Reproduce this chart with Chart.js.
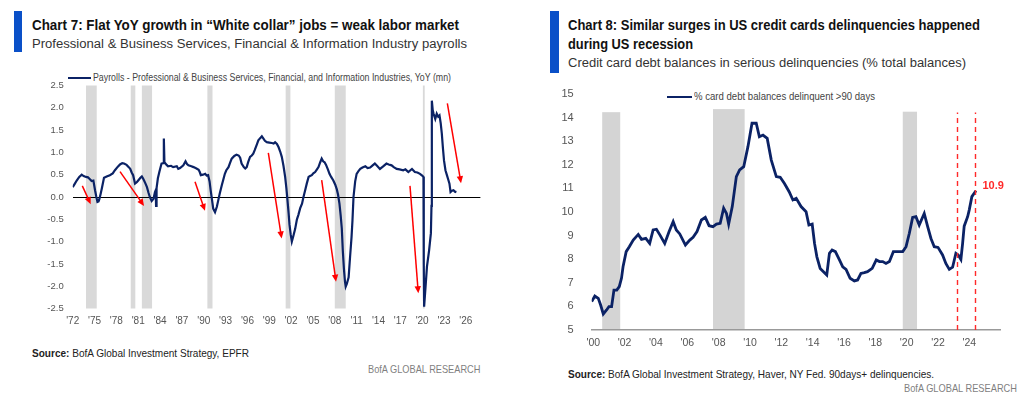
<!DOCTYPE html>
<html><head><meta charset="utf-8">
<script src="https://cdn.jsdelivr.net/npm/chart.js@4"></script>
<style>
html,body{margin:0;padding:0;background:#fff;}
body{width:1024px;height:395px;position:relative;overflow:hidden;font-family:'Liberation Sans Narrow','Liberation Sans',Arial,sans-serif;}
.t{position:absolute;white-space:nowrap;line-height:1;transform-origin:0 0;display:inline-block;}
.bar{position:absolute;background:#0a50c8;}
.lg{position:absolute;background:#0b2265;height:2px;}
canvas{position:absolute;top:0;}
</style></head>
<body>
<div class="bar" style="left:14px;top:11px;width:8px;height:41px"></div>
<span class="t" data-x="32" data-b="29.3" data-s="15" data-w="427" style="font-weight:bold;color:#111">Chart 7: Flat YoY growth in “White collar” jobs = weak labor market</span>
<span class="t" data-x="32" data-b="48.3" data-s="12.5" data-w="435" style="color:#333">Professional &amp; Business Services, Financial &amp; Information Industry payrolls</span>
<div class="lg" style="left:68px;top:76.7px;width:23px"></div>
<span class="t" data-x="93" data-b="81" data-s="10" data-w="358" style="color:#444">Payrolls - Professional &amp; Business Services, Financial, and Information Industries, YoY (mn)</span>
<span class="t" data-x="32" data-b="356.7" data-s="10.5" data-w="217" style="color:#222"><b>Source:</b> BofA Global Investment Strategy, EPFR</span>
<span class="t" data-x="368.3" data-b="373.3" data-s="11.5" data-w="112.4" style="color:#7f7f7f">BofA GLOBAL RESEARCH</span>

<div class="bar" style="left:550px;top:11px;width:9px;height:62px"></div>
<span class="t" data-x="568" data-b="29.3" data-s="15" data-w="412" style="font-weight:bold;color:#111">Chart 8: Similar surges in US credit cards delinquencies happened</span>
<span class="t" data-x="568" data-b="48.3" data-s="15" data-w="125" style="font-weight:bold;color:#111">during US recession</span>
<span class="t" data-x="568" data-b="67.7" data-s="12.5" data-w="398" style="color:#333">Credit card debt balances in serious delinquencies (% total balances)</span>
<div class="lg" style="left:667px;top:95.5px;width:25px;height:2.5px"></div>
<span class="t" data-x="694" data-b="100" data-s="10" data-w="181" style="color:#444">% card debt balances delinquent &gt;90 days</span>
<span class="t" data-x="568" data-b="378.3" data-s="10.5" data-w="366" style="color:#222"><b>Source:</b> BofA Global Investment Strategy, Haver, NY Fed. 90days+ delinquencies.</span>
<span class="t" data-x="904" data-b="392.3" data-s="11.5" data-w="113" style="color:#7f7f7f">BofA GLOBAL RESEARCH</span>

<canvas id="c7" width="512" height="395" style="left:0"></canvas>
<canvas id="c8" width="512" height="395" style="left:512px"></canvas>
<script>
// ---------- Chart 7 data ----------
const payYears = [1972.0,1972.3,1972.55,1972.9,1973.24,1973.5,1973.83,1974.1,1974.3,1974.6,1974.84,1975.07,1975.25,1975.4,1975.55,1975.66,1975.85,1976.0,1976.3,1976.67,1977.1,1977.5,1977.8,1978.2,1978.5,1978.8,1979.05,1979.4,1979.7,1979.9,1980.1,1980.3,1980.45,1980.56,1980.8,1981.0,1981.3,1981.5,1981.65,1981.8,1982.0,1982.2,1982.4,1982.6,1982.85,1983.1,1983.3,1983.4,1983.45,1983.52,1983.7,1983.9,1984.2,1984.45,1984.52,1984.6,1984.9,1985.1,1985.5,1985.8,1986.3,1986.5,1986.74,1987.2,1987.5,1987.7,1987.9,1988.3,1988.6,1989.0,1989.3,1989.45,1989.6,1989.9,1990.2,1990.4,1990.6,1990.8,1990.95,1991.15,1991.3,1991.55,1991.8,1992.0,1992.2,1992.47,1992.7,1992.9,1993.1,1993.4,1993.6,1993.84,1994.2,1994.5,1994.8,1995.0,1995.2,1995.5,1995.7,1995.9,1996.1,1996.36,1996.6,1996.8,1997.0,1997.3,1997.5,1997.75,1997.98,1998.2,1998.4,1998.66,1999.0,1999.35,1999.6,1999.8,2000.05,2000.27,2000.5,2000.72,2000.95,2001.18,2001.35,2001.5,2001.65,2001.78,2001.95,2002.1,2002.3,2002.55,2002.8,2003.0,2003.25,2003.5,2003.7,2003.93,2004.15,2004.4,2004.6,2004.84,2005.05,2005.3,2005.55,2005.76,2006.0,2006.2,2006.4,2006.6,2006.8,2007.05,2007.27,2007.5,2007.8,2008.05,2008.28,2008.45,2008.64,2008.8,2008.96,2009.1,2009.25,2009.4,2009.5,2009.65,2009.9,2010.1,2010.3,2010.43,2010.57,2010.8,2011.0,2011.25,2011.5,2011.8,2012.2,2012.5,2012.86,2013.2,2013.5,2013.8,2014.2,2014.6,2015.1,2015.4,2015.8,2016.1,2016.5,2016.9,2017.4,2017.7,2018.1,2018.6,2019.0,2019.35,2019.7,2020.0,2020.18,2020.22,2020.27,2020.45,2020.66,2020.95,2021.2,2021.28,2021.33,2021.45,2021.56,2021.8,2022.0,2022.2,2022.38,2022.55,2022.7,2022.85,2023.0,2023.2,2023.4,2023.6,2023.75,2023.9,2024.1,2024.3,2024.5,2024.7];
const payValues = [0.22,0.3,0.37,0.45,0.5,0.47,0.45,0.44,0.41,0.36,0.37,0.15,0.0,-0.11,-0.1,-0.05,0.08,0.19,0.43,0.46,0.49,0.53,0.6,0.68,0.73,0.76,0.75,0.72,0.67,0.63,0.55,0.49,0.38,0.3,0.33,0.37,0.43,0.46,0.42,0.37,0.3,0.22,0.1,0.0,-0.09,-0.04,0.11,0.15,-0.2,0.2,0.42,0.56,0.75,0.76,1.31,0.78,0.72,0.69,0.7,0.67,0.69,0.63,0.65,0.71,0.8,0.74,0.71,0.69,0.67,0.64,0.61,0.56,0.49,0.5,0.52,0.48,0.49,0.35,0.15,-0.08,-0.26,-0.34,-0.22,-0.07,0.08,0.26,0.4,0.52,0.6,0.67,0.76,0.86,0.92,0.95,0.93,0.88,0.75,0.67,0.64,0.67,0.78,0.9,0.93,0.97,1.05,1.18,1.27,1.32,1.36,1.31,1.26,1.23,1.22,1.21,1.2,1.23,1.19,1.12,1.02,0.9,0.7,0.45,0.2,-0.07,-0.35,-0.62,-0.85,-1.0,-0.88,-0.72,-0.5,-0.4,-0.25,-0.15,0.0,0.15,0.3,0.45,0.47,0.49,0.53,0.56,0.62,0.67,0.78,0.86,0.8,0.78,0.72,0.62,0.52,0.45,0.37,0.28,0.17,0.05,-0.15,-0.4,-0.7,-1.2,-1.6,-1.9,-2.01,-1.95,-1.8,-1.34,-0.9,-0.52,0.0,0.35,0.52,0.58,0.63,0.66,0.69,0.65,0.66,0.71,0.75,0.7,0.63,0.68,0.75,0.73,0.71,0.67,0.63,0.62,0.6,0.62,0.56,0.63,0.56,0.55,0.52,0.48,0.45,-1.5,-2.46,-2.05,-1.56,-1.2,-0.81,-0.2,2.16,1.95,1.87,1.75,1.87,1.8,1.83,1.65,1.42,1.1,0.82,0.6,0.49,0.38,0.3,0.11,0.14,0.15,0.12,0.11];
const payXTicks = [1972,1975,1978,1981,1984,1987,1990,1993,1996,1999,2002,2005,2008,2011,2014,2017,2020,2023,2026];
const payYTicks = [-2.5,-2.0,-1.5,-1.0,-0.5,0.0,0.5,1.0,1.5,2.0,2.5];
const payRecStart = [1973.83,1979.97,1981.5,1990.5,2001.25,2008.0,2020.1];
const payRecEnd   = [1975.3,1980.6,1982.9,1991.2,2001.9,2009.5,2020.35];
const arrowX0 = [1973.32,1978.5,1988.8,1998.87,2006.2,2018.33,2023.46];
const arrowY0 = [0.25,0.57,0.34,0.99,0.38,0.25,2.1];
const arrowX1 = [1974.47,1981.8,1990.17,2000.7,2008.17,2019.47,2025.34];
const arrowY1 = [-0.16,-0.2,-0.31,-0.93,-1.9,-2.16,0.31];

// ---------- Chart 8 data ----------
const ccYears = [1999.9,2000.1,2000.32,2000.47,2000.64,2000.85,2001.0,2001.17,2001.32,2001.5,2001.66,2001.8,2001.9,2002.1,2002.3,2002.55,2002.87,2003.08,2003.35,2003.6,2003.82,2004.03,2004.25,2004.56,2004.84,2005.1,2005.3,2005.52,2005.88,2006.16,2006.37,2006.62,2006.9,2007.15,2007.39,2007.64,2007.86,2008.1,2008.32,2008.5,2008.64,2008.87,2009.13,2009.34,2009.6,2009.87,2010.13,2010.4,2010.6,2010.83,2011.1,2011.36,2011.68,2011.93,2012.2,2012.5,2012.74,2012.95,2013.26,2013.58,2013.76,2013.97,2014.12,2014.27,2014.48,2014.69,2014.9,2015.07,2015.24,2015.45,2015.71,2015.92,2016.13,2016.39,2016.66,2016.87,2017.08,2017.3,2017.5,2017.8,2018.06,2018.26,2018.47,2018.68,2018.9,2019.15,2019.43,2019.75,2019.96,2020.17,2020.38,2020.59,2020.8,2021.12,2021.34,2021.55,2021.76,2022.0,2022.29,2022.5,2022.72,2022.93,2023.14,2023.29,2023.46,2023.57,2023.67,2023.89,2023.99,2024.16,2024.42];
const ccValues = [6.2,6.44,6.34,6.06,5.68,5.85,5.99,5.99,6.69,6.69,6.84,7.19,7.68,8.32,8.53,8.81,9.05,8.84,8.88,8.67,9.24,9.27,9.03,8.67,9.17,9.59,9.24,9.07,8.6,8.81,8.93,9.17,9.66,9.77,9.42,9.38,9.49,9.52,10.16,9.94,9.49,10.23,11.5,11.78,11.92,12.77,13.76,13.76,13.19,13.26,13.12,12.2,11.5,11.47,11.21,10.86,10.51,10.58,10.23,10.01,9.45,9.49,8.67,8.1,7.61,7.47,7.33,8.25,8.39,8.32,7.97,7.68,7.57,7.19,7.08,7.12,7.4,7.43,7.47,7.61,7.97,7.9,7.9,7.82,7.9,8.32,8.32,8.32,8.53,9.1,9.77,9.8,9.45,9.94,9.38,8.88,8.53,8.5,8.18,7.82,7.57,7.66,8.25,8.18,7.99,8.67,9.4,9.8,10.08,10.65,10.9];
const ccXTicks = [2000,2002,2004,2006,2008,2010,2012,2014,2016,2018,2020,2022,2024];
const ccYTicks = [5,6,7,8,9,10,11,12,13,14,15];
const ccRecStart = [2000.57,2007.64,2019.75];
const ccRecEnd   = [2001.72,2009.66,2020.66];
const ccRecTop   = [14.23,14.36,14.25];
const ccMarkers  = [2023.21,2024.36];
const ccMarkerTop = 14.22;

// ---------- text fitting ----------
document.querySelectorAll('.t').forEach(el => {
  const s = parseFloat(el.dataset.s);
  el.style.fontSize = s + 'px';
  el.style.left = el.dataset.x + 'px';
  el.style.top = (parseFloat(el.dataset.b) - 0.8465 * s) + 'px';
  const nat = el.getBoundingClientRect().width;
  el.style.transform = 'scaleX(' + (parseFloat(el.dataset.w) / nat) + ')';
});

Chart.defaults.font.family = "'Liberation Sans', Arial, sans-serif";
Chart.defaults.color = '#555';

function recessionPlugin(starts, ends, tops, color) {
  return { id: 'rec', beforeDraw(chart) {
    const {ctx, scales: {x, y}} = chart;
    ctx.save(); ctx.fillStyle = color;
    starts.forEach((s, i) => {
      const x0 = x.getPixelForValue(s), x1 = x.getPixelForValue(ends[i]);
      const t = y.getPixelForValue(tops ? tops[i] : y.max), b = y.getPixelForValue(y.min);
      ctx.fillRect(x0, t, x1 - x0, b - t);
    });
    ctx.restore();
  }};
}

const arrowPlugin = { id: 'arrows', afterDatasetsDraw(chart) {
  const {ctx, scales: {x, y}} = chart;
  ctx.save(); ctx.strokeStyle = '#ff0000'; ctx.fillStyle = '#ff0000'; ctx.lineWidth = 1.5;
  arrowX0.forEach((v, i) => {
    const x0 = x.getPixelForValue(v), y0 = y.getPixelForValue(arrowY0[i]);
    const x1 = x.getPixelForValue(arrowX1[i]), y1 = y.getPixelForValue(arrowY1[i]);
    const a = Math.atan2(y1 - y0, x1 - x0), L = 7, W = 3.2;
    ctx.beginPath(); ctx.moveTo(x0, y0); ctx.lineTo(x1 - L * 0.7 * Math.cos(a), y1 - L * 0.7 * Math.sin(a)); ctx.stroke();
    ctx.beginPath(); ctx.moveTo(x1, y1);
    ctx.lineTo(x1 - L * Math.cos(a) + W * Math.sin(a), y1 - L * Math.sin(a) - W * Math.cos(a));
    ctx.lineTo(x1 - L * Math.cos(a) - W * Math.sin(a), y1 - L * Math.sin(a) + W * Math.cos(a));
    ctx.closePath(); ctx.fill();
  });
  ctx.restore();
}};

const markerPlugin = { id: 'markers', afterDatasetsDraw(chart) {
  const {ctx, scales: {x, y}} = chart;
  ctx.save(); ctx.strokeStyle = '#ff2a2a'; ctx.lineWidth = 1.4; ctx.setLineDash([5, 4]);
  ccMarkers.forEach(m => {
    const px = Math.round(x.getPixelForValue(m)) + 0.5;
    ctx.beginPath(); ctx.moveTo(px, y.getPixelForValue(y.min)); ctx.lineTo(px, y.getPixelForValue(ccMarkerTop)); ctx.stroke();
  });
  ctx.setLineDash([]);
  const li = ccValues.length - 1;
  const lx = x.getPixelForValue(ccYears[li]), ly = y.getPixelForValue(ccValues[li]);
  ctx.fillStyle = '#ff2a2a'; ctx.font = "bold 11px 'Liberation Sans', Arial, sans-serif";
  ctx.textBaseline = 'middle'; ctx.textAlign = 'left';
  ctx.fillText(ccValues[li].toFixed(1), lx + 6.5, ly - 5);
  ctx.restore();
}};

new Chart(document.getElementById('c7'), {
  type: 'line',
  data: { datasets: [{
    label: 'Payrolls - Professional & Business Services, Financial, and Information Industries, YoY (mn)',
    data: payYears.map((v, i) => ({x: v, y: payValues[i]})),
    borderColor: '#0b2265', borderWidth: 2.2, pointRadius: 0, tension: 0, fill: false
  }]},
  options: {
    responsive: false, animation: false, events: [],
    layout: { padding: { top: 85.5, right: 31.6, bottom: 56.5, left: 0 } },
    plugins: { legend: { display: false }, tooltip: { enabled: false } },
    scales: {
      x: { type: 'linear', min: 1972, max: 2028,
        afterBuildTicks: s => { s.ticks = payXTicks.map(v => ({value: v})); },
        afterFit: s => { s.height = 30; },
        ticks: { autoSkip: false, maxRotation: 0, padding: 7, color: '#555', font: { size: 10 },
          callback: v => "'" + String(v).slice(2) },
        grid: { display: false, drawTicks: false }, border: { display: false } },
      y: { type: 'linear', min: -2.5, max: 2.5,
        afterBuildTicks: s => { s.ticks = payYTicks.map(v => ({value: v})); },
        afterFit: s => { s.width = 72.7; },
        ticks: { padding: 9, color: '#555', font: { size: 9.5 }, callback: v => Number(v).toFixed(1) },
        grid: { drawTicks: false, lineWidth: 1, color: c => (c.tick && c.tick.value === 0) ? '#000' : 'rgba(0,0,0,0)' },
        border: { display: false } }
    }
  },
  plugins: [recessionPlugin(payRecStart, payRecEnd, null, '#d9d9d9'), arrowPlugin]
});

new Chart(document.getElementById('c8'), {
  type: 'line',
  data: { datasets: [{
    label: '% card debt balances delinquent >90 days',
    data: ccYears.map((v, i) => ({x: v, y: ccValues[i]})),
    borderColor: '#0b2265', borderWidth: 2.8, pointRadius: 0, tension: 0, fill: false
  }]},
  options: {
    responsive: false, animation: false, events: [],
    layout: { padding: { top: 94, right: 23.3, bottom: 35, left: 0 } },
    plugins: { legend: { display: false }, tooltip: { enabled: false } },
    scales: {
      x: { type: 'linear', min: 1999.9, max: 2026,
        afterBuildTicks: s => { s.ticks = ccXTicks.map(v => ({value: v})); },
        afterFit: s => { s.height = 30; },
        ticks: { autoSkip: false, maxRotation: 0, padding: 7, color: '#555', font: { size: 10.5 },
          callback: v => "'" + String(v).slice(2) },
        grid: { display: false, drawTicks: false }, border: { display: true, color: '#999', width: 1.5 } },
      y: { type: 'linear', min: 5, max: 15,
        afterBuildTicks: s => { s.ticks = ccYTicks.map(v => ({value: v})); },
        afterFit: s => { s.width = 79.7; },
        ticks: { padding: 10, color: '#555', font: { size: 11 } },
        grid: { display: false }, border: { display: false } }
    }
  },
  plugins: [recessionPlugin(ccRecStart, ccRecEnd, ccRecTop, '#d4d4d4'), markerPlugin]
});
</script>
</body></html>
